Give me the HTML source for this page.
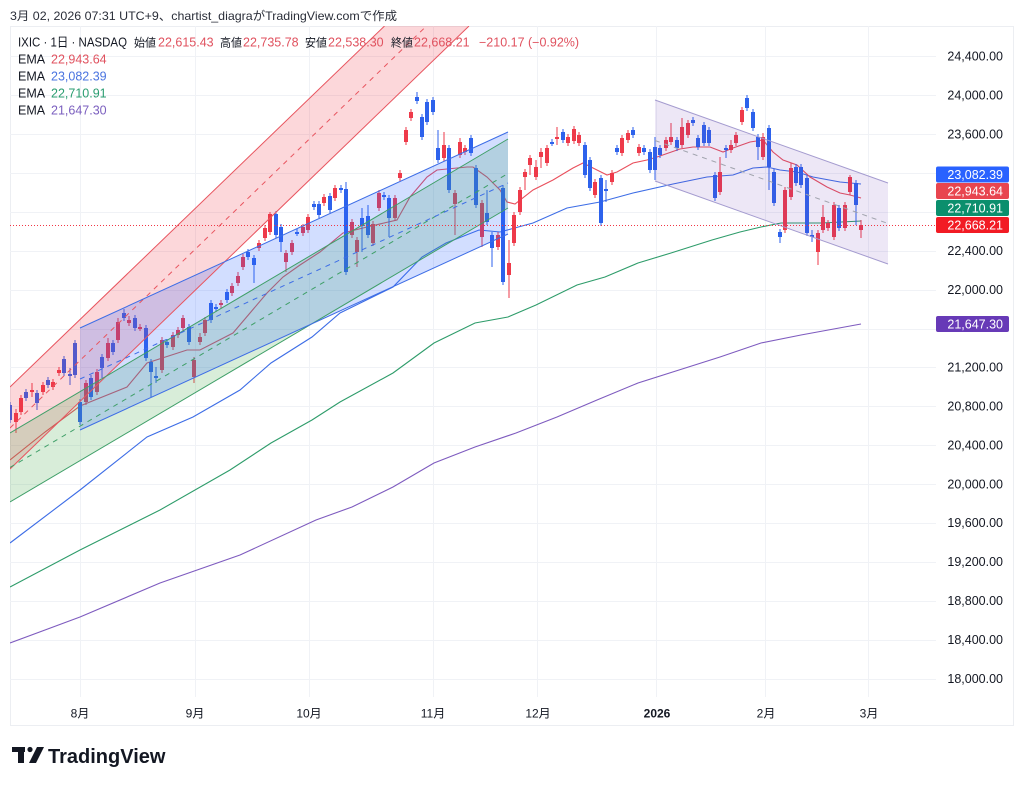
<!DOCTYPE html>
<html><head><meta charset="utf-8"><style>
html,body{margin:0;padding:0;background:#fff;}
svg{display:block;font-family:"Liberation Sans","Noto Sans CJK JP",sans-serif;}
</style></head><body>
<svg width="1024" height="785" viewBox="0 0 1024 785" xmlns="http://www.w3.org/2000/svg">
<defs><clipPath id="c"><rect x="10" y="26" width="926" height="671"/></clipPath></defs>
<rect width="1024" height="785" fill="#fff"/>
<text x="10" y="20" font-size="12" fill="#2a2e39" textLength="387" lengthAdjust="spacingAndGlyphs">3月 02, 2026 07:31 UTC+9、chartist_diagraがTradingView.comで作成</text>
<rect x="10.5" y="26.5" width="1003" height="699" fill="none" stroke="#eceef2"/>
<g stroke="#f0f2f6" stroke-width="1">
<path d="M10 56.5H936M10 95.5H936M10 134.5H936M10 173.5H936M10 212.5H936M10 251.5H936M10 290.5H936M10 329.5H936M10 367.5H936M10 406.5H936M10 445.5H936M10 484.5H936M10 523.5H936M10 562.5H936M10 601.5H936M10 640.5H936M10 679.5H936"/>
<path d="M80.5 26V697M195.5 26V697M309.5 26V697M433.5 26V697M537.5 26V697M656.5 26V697M765.5 26V697M868.5 26V697"/>
</g>
<g clip-path="url(#c)">
<g fill="none" stroke-width="1.1">
<polyline stroke="#7e5bbf" points="10,643 80,617 160,583 240,555 316,520 352,507 393,487 434,463 475,447 516,433 557,417 597,400 638,383 679,370 720,357 761,343 801,335 861,324"/>
<polyline stroke="#2e9c6a" points="10,587 80,550 160,510 230,470 271,443 312,420 340,402 393,373 434,343 475,323 508,317 536,305 577,285 605,277 638,263 671,253 712,240 740,232 761,227 781,223 822,223 861,221"/>
<polyline stroke="#3d6de6" points="10,543 80,490 147,437 193,417 240,390 271,363 312,337 340,313 393,287 422,257 446,243 479,230 500,232 533,223 567,208 600,202 633,193 673,184 707,177 733,175 753,168 767,167 780,170 797,172 813,177 840,182 861,184"/>
<polyline stroke="#e94f5c" points="10,460 45,432 80,406 127,387 147,363 187,350 200,350 233,333 267,293 283,277 300,265 320,252 343,233 367,227 397,220 410,197 427,177 437,170 467,167 473,167 487,177 500,190 507,202 515,204 533,190 553,180 573,168 583,163 597,170 607,175 617,172 633,163 647,160 657,157 680,149 693,147 710,147 723,152 733,148 750,142 763,140 773,152 783,160 797,165 810,177 827,187 840,193 850,195 861,198"/>
</g>
<path fill="none" stroke="#ee3a4a" stroke-width="1" d="M16 409V433M21 395V415M32 383V397M43 382V395M53 379V390M59 367V376M86 380V405M97 369V395M108 338V361M118 318V343M129 316V326M140 324V331M162 337V373M173 332V350M178 327V338M183 315V331M194 357V383M200 333V345M205 317V336M221 300V308M232 283V296M238 272V286M243 254V270M259 240V251M265 225V241M270 212V235M286 250V272M292 240V255M303 224V236M308 214V233M324 194V206M335 185V201M352 219V238M357 237V267M373 221V246M379 190V211M395 195V221M400 170V181M406 127V145M411 109V121M444 132V161M455 190V235M460 138V158M465 145V155M482 200V247M498 232V250M509 240V298M514 212V246M520 187V215M525 169V190M530 155V175M536 160V180M541 148V168M547 145V166M557 127V145M568 134V146M574 126V144M579 132V146M595 179V198M612 170V185M622 135V156M628 130V143M639 144V156M666 137V151M671 123V145M682 118V148M688 120V138M720 157V195M731 140V153M736 132V146M742 107V125M763 133V160M785 187V233M791 163V200M818 230V265M823 205V233M828 220V231M834 202V240M845 202V231M850 175V195M861 220V238"/>
<path fill="#ee3a4a" d="M14 413h4v9h-4zM19 398h4v14h-4zM30 390h4v2h-4zM41 385h4v7h-4zM51 382h4v5h-4zM57 370h4v3h-4zM84 383h4v19h-4zM95 372h4v20h-4zM106 343h4v15h-4zM116 322h4v18h-4zM127 320h4v3h-4zM138 327h4v2h-4zM160 340h4v30h-4zM171 335h4v12h-4zM176 330h4v5h-4zM181 318h4v10h-4zM192 360h4v17h-4zM198 337h4v5h-4zM203 320h4v13h-4zM219 303h4v2h-4zM230 286h4v7h-4zM236 276h4v7h-4zM241 257h4v10h-4zM257 243h4v5h-4zM263 228h4v10h-4zM268 214h4v18h-4zM284 253h4v9h-4zM290 243h4v9h-4zM301 227h4v6h-4zM306 217h4v13h-4zM322 197h4v6h-4zM333 188h4v10h-4zM350 222h4v13h-4zM355 240h4v12h-4zM371 224h4v19h-4zM377 193h4v15h-4zM393 198h4v20h-4zM398 173h4v5h-4zM404 130h4v12h-4zM409 112h4v6h-4zM442 145h4v13h-4zM453 193h4v11h-4zM458 142h4v13h-4zM463 148h4v4h-4zM480 203h4v34h-4zM496 235h4v12h-4zM507 263h4v12h-4zM512 215h4v28h-4zM518 190h4v22h-4zM523 172h4v5h-4zM528 158h4v7h-4zM534 167h4v10h-4zM539 152h4v5h-4zM545 148h4v15h-4zM555 137h4v2h-4zM566 137h4v6h-4zM572 129h4v12h-4zM577 135h4v8h-4zM593 182h4v13h-4zM610 173h4v9h-4zM620 138h4v15h-4zM626 133h4v7h-4zM637 147h4v6h-4zM664 140h4v8h-4zM669 137h4v5h-4zM680 127h4v18h-4zM686 123h4v12h-4zM718 172h4v20h-4zM729 145h4v5h-4zM734 135h4v8h-4zM740 110h4v12h-4zM761 137h4v20h-4zM783 190h4v40h-4zM789 168h4v29h-4zM816 233h4v19h-4zM821 217h4v13h-4zM826 223h4v5h-4zM832 205h4v32h-4zM843 205h4v23h-4zM848 177h4v15h-4zM859 225h4v5h-4z"/>
<path fill="none" stroke="#2d62ec" stroke-width="1" d="M10 402V423M26 389V401M37 390V410M48 377V388M64 356V376M70 368V385M75 340V378M80 399V425M91 375V400M102 354V378M113 340V355M124 309V321M135 315V331M146 325V361M151 359V397M156 367V383M167 339V348M189 324V345M211 300V323M216 304V312M227 289V303M248 249V260M254 255V283M276 211V238M281 224V252M297 229V236M314 201V210M319 201V218M330 193V213M341 185V193M346 182V275M362 208V252M368 205V238M384 192V200M389 195V237M417 92V104M422 114V140M427 99V125M433 97V115M438 130V163M449 145V193M471 135V156M476 165V208M487 190V225M492 232V267M503 185V285M552 139V146M563 129V143M585 142V178M590 157V191M601 175V226M606 180V202M617 145V155M633 127V138M644 145V155M650 149V173M655 137V180M660 145V158M677 137V151M693 117V126M698 135V150M704 122V146M709 127V146M715 172V201M726 145V158M747 95V111M753 109V131M758 134V160M769 125V190M774 169V206M780 229V243M796 164V186M801 164V188M807 175V236M812 230V242M839 205V231M856 180V225"/>
<path fill="#2d62ec" d="M8 405h4v15h-4zM24 392h4v6h-4zM35 393h4v10h-4zM46 380h4v5h-4zM62 359h4v14h-4zM68 374h4v2h-4zM73 343h4v32h-4zM78 402h4v20h-4zM89 378h4v19h-4zM100 357h4v11h-4zM111 343h4v9h-4zM122 313h4v5h-4zM133 318h4v10h-4zM144 328h4v30h-4zM149 362h4v10h-4zM154 376h4v2h-4zM165 342h4v3h-4zM187 327h4v15h-4zM209 303h4v17h-4zM214 307h4v2h-4zM225 292h4v8h-4zM246 252h4v5h-4zM252 258h4v7h-4zM274 214h4v21h-4zM279 227h4v15h-4zM295 232h4v2h-4zM312 204h4v3h-4zM317 204h4v11h-4zM328 196h4v14h-4zM339 188h4v2h-4zM344 189h4v83h-4zM360 218h4v8h-4zM366 216h4v19h-4zM382 195h4v2h-4zM387 198h4v20h-4zM415 97h4v4h-4zM420 117h4v20h-4zM425 102h4v20h-4zM431 100h4v12h-4zM436 148h4v12h-4zM447 148h4v42h-4zM469 138h4v15h-4zM474 168h4v37h-4zM485 213h4v9h-4zM490 235h4v13h-4zM501 188h4v94h-4zM550 142h4v2h-4zM561 132h4v8h-4zM583 145h4v30h-4zM588 160h4v28h-4zM599 178h4v45h-4zM604 189h4v2h-4zM615 148h4v4h-4zM631 130h4v5h-4zM642 148h4v4h-4zM648 152h4v18h-4zM653 147h4v23h-4zM658 148h4v7h-4zM675 140h4v8h-4zM691 120h4v3h-4zM696 138h4v9h-4zM702 125h4v18h-4zM707 130h4v13h-4zM713 175h4v23h-4zM724 148h4v2h-4zM745 98h4v10h-4zM751 112h4v16h-4zM756 137h4v10h-4zM767 128h4v39h-4zM772 172h4v31h-4zM778 232h4v5h-4zM794 167h4v16h-4zM799 167h4v18h-4zM805 178h4v55h-4zM810 235h4v2h-4zM837 208h4v20h-4zM854 183h4v22h-4z"/>
<polygon points="10,387 384.5,26 469,26 10,469" fill="rgba(242,54,69,0.2)"/>
<polygon points="10,433 508,139 508,208 10,502" fill="rgba(76,175,80,0.22)"/>
<polygon points="80,328 508,132 508,234 80,430" fill="rgba(41,98,255,0.21)"/>
<polygon points="655,100 888,183 888,264 655,181" fill="rgba(103,58,183,0.12)"/>
<g fill="none" stroke-width="1">
<path stroke="#e8555f" d="M10 387L384.5 26M10 469L469 26"/>
<path stroke="#e8555f" stroke-dasharray="5,5" d="M10 428L426.5 26"/>
<path stroke="#3f9f68" d="M10 433L508 139M10 502L508 208"/>
<path stroke="#3f9f68" stroke-dasharray="5,5" d="M10 467.5L508 173.5"/>
<path stroke="#3d6de6" d="M80 328L508 132M80 430L508 234"/>
<path stroke="#3d6de6" stroke-dasharray="5,5" d="M80 379L508 183"/>
<path stroke="#a49bcf" d="M655 100L888 183M655 181L888 264"/>
<path stroke="#a0a3ad" stroke-dasharray="5,5" d="M655 140.5L888 223.5"/>
</g>
<path d="M10 225.5H936" stroke="#f23645" stroke-width="1" stroke-dasharray="1,2"/>
</g>
<g font-size="12.5">
<text x="18" y="46.5" fill="#131722" textLength="109" lengthAdjust="spacingAndGlyphs">IXIC · 1日 · NASDAQ</text>
<text x="134" y="46.5" fill="#131722" font-size="11.5" textLength="22" lengthAdjust="spacingAndGlyphs">始値</text><text x="158" y="46.5" fill="#e0525f">22,615.43</text>
<text x="220" y="46.5" fill="#131722" font-size="11.5" textLength="22" lengthAdjust="spacingAndGlyphs">高値</text><text x="243" y="46.5" fill="#e0525f">22,735.78</text>
<text x="305" y="46.5" fill="#131722" font-size="11.5" textLength="22" lengthAdjust="spacingAndGlyphs">安値</text><text x="328" y="46.5" fill="#e0525f">22,538.30</text>
<text x="391" y="46.5" fill="#131722" font-size="11.5" textLength="22" lengthAdjust="spacingAndGlyphs">終値</text><text x="414" y="46.5" fill="#e0525f">22,668.21</text>
<text x="479" y="46.5" fill="#e0525f">−210.17 (−0.92%)</text>
<text x="18" y="63.5" fill="#131722">EMA</text><text x="51" y="63.5" fill="#e0525f">22,943.64</text>
<text x="18" y="80.5" fill="#131722">EMA</text><text x="51" y="80.5" fill="#4a74e0">23,082.39</text>
<text x="18" y="97.5" fill="#131722">EMA</text><text x="51" y="97.5" fill="#2a9d70">22,710.91</text>
<text x="18" y="114.5" fill="#131722">EMA</text><text x="51" y="114.5" fill="#7b5fbf">21,647.30</text>
</g>
<g font-size="12.5" fill="#131722" text-anchor="end">
<text x="1003" y="60.5">24,400.00</text>
<text x="1003" y="99.5">24,000.00</text>
<text x="1003" y="138.5">23,600.00</text>
<text x="1003" y="255">22,400.00</text>
<text x="1003" y="294">22,000.00</text>
<text x="1003" y="371.5">21,200.00</text>
<text x="1003" y="410.5">20,800.00</text>
<text x="1003" y="449.5">20,400.00</text>
<text x="1003" y="488.5">20,000.00</text>
<text x="1003" y="527">19,600.00</text>
<text x="1003" y="566">19,200.00</text>
<text x="1003" y="605">18,800.00</text>
<text x="1003" y="644">18,400.00</text>
<text x="1003" y="683">18,000.00</text>
</g>
<rect x="936" y="166.5" width="73" height="16" rx="2" fill="#2962ff"/>
<rect x="936" y="183" width="73" height="16" rx="2" fill="#e8454f"/>
<rect x="936" y="200" width="73" height="16" rx="2" fill="#0b8f6d"/>
<rect x="936" y="217" width="73" height="16" rx="2" fill="#f21b24"/>
<rect x="936" y="316" width="73" height="16" rx="2" fill="#673ab7"/>
<g font-size="12.5" fill="#fff" text-anchor="end">
<text x="1003" y="179">23,082.39</text>
<text x="1003" y="195.5">22,943.64</text>
<text x="1003" y="212.5">22,710.91</text>
<text x="1003" y="229.5">22,668.21</text>
<text x="1003" y="328.5">21,647.30</text>
</g>
<g font-size="12" fill="#131722" text-anchor="middle">
<text x="80" y="717.5">8月</text>
<text x="195" y="717.5">9月</text>
<text x="309" y="717.5">10月</text>
<text x="433" y="717.5">11月</text>
<text x="538" y="717.5">12月</text>
<text x="657" y="717.5" font-weight="bold">2026</text>
<text x="766" y="717.5">2月</text>
<text x="869" y="717.5">3月</text>
</g>
<g fill="#131722">
<rect x="12" y="747" width="13" height="5"/>
<rect x="18" y="747" width="6" height="16"/>
<circle cx="30" cy="749.5" r="2.6"/>
<polygon points="37,747 44,747 36,763 29,763"/>
<text x="48" y="763" font-size="20" font-weight="bold">TradingView</text>
</g>
</svg>
</body></html>
